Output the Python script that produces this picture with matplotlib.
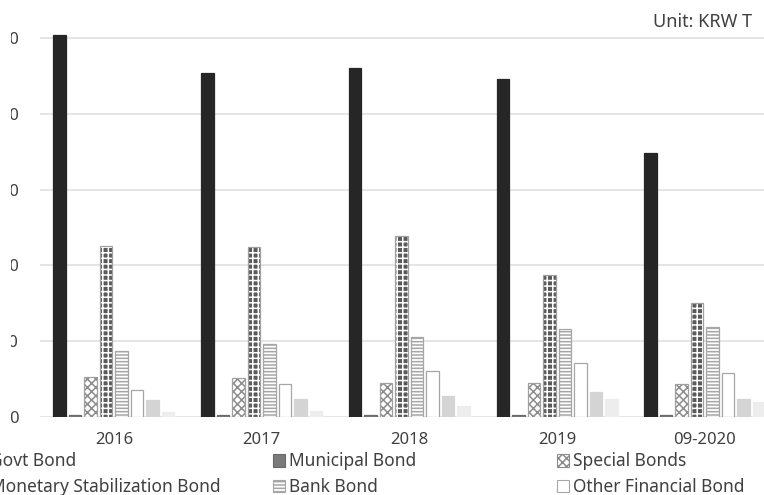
import matplotlib
matplotlib.use("Agg")
import matplotlib.pyplot as plt
from matplotlib.patches import Patch
from matplotlib.transforms import Bbox
import numpy as np

plt.rcParams['font.family'] = ['Noto Sans', 'DejaVu Sans']
plt.rcParams['hatch.linewidth'] = 1.1

# Bond trading by type, KRW trillion
years = ["2016", "2017", "2018", "2019", "09-2020"]
govt_bond = [2520, 2269, 2302, 2230, 1741]
municipal_bond = [12, 12, 12, 12, 12]
special_bonds = [264, 257, 224, 224, 218]
monetary_stab_bond = [1128, 1122, 1194, 937, 752]
bank_bond = [435, 481, 528, 580, 594]
other_fin_bond = [178, 218, 303, 356, 290]
corporate_bond = [112, 119, 138, 165, 119]
abs_bond = [33, 40, 73, 119, 99]

series = [
    ("Govt Bond", govt_bond),
    ("Municipal Bond", municipal_bond),
    ("Special Bonds", special_bonds),
    ("Monetary Stabilization Bond", monetary_stab_bond),
    ("Bank Bond", bank_bond),
    ("Other Financial Bond", other_fin_bond),
    ("Corporate Bond", corporate_bond),
    ("ABS", abs_bond),
]

# fill / hatch colour / hatch / outline for each series
styles = [
    dict(face="#262626", hatchc="#262626", hatch=None, edge="#262626"),
    dict(face="#7a7a7a", hatchc="#7a7a7a", hatch=None, edge="#6a6a6a"),
    dict(face="white", hatchc="#8c8c8c", hatch="xxxx", edge="#a0a0a0"),
    dict(face="#5a5a5a", hatchc="white", hatch="+++", edge="#a0a0a0"),
    dict(face="white", hatchc="#a6a6a6", hatch="-----", edge="#a6a6a6"),
    dict(face="white", hatchc="white", hatch=None, edge="#a6a6a6"),
    dict(face="#d4d4d4", hatchc="#d4d4d4", hatch=None, edge="#d4d4d4"),
    dict(face="#ededed", hatchc="#ededed", hatch=None, edge="#ededed"),
]

W, H = 764, 495
fig = plt.figure(figsize=(W / 100, H / 100), dpi=100)
ax_left, ax_right = 40, 40 + 5 * 147.75
ax_bottom, ax_top = 417, -38
ax = fig.add_axes([ax_left / W, (H - ax_bottom) / H,
                   (ax_right - ax_left) / W, (ax_bottom - ax_top) / H])

x = np.arange(len(years))
step = 0.105
width = 0.085
for i, ((name, vals), st) in enumerate(zip(series, styles)):
    pos = x + (i - 3.5) * step
    ax.bar(pos, vals, width=width, color=st["face"], edgecolor=st["hatchc"],
           hatch=st["hatch"], linewidth=0, zorder=3)
    ax.bar(pos, vals, width=width, facecolor="none", edgecolor=st["edge"],
           linewidth=0.9, zorder=4)

ax.set_xlim(-0.5, len(years) - 0.5)
ax.set_ylim(0, 3000)
ax.set_yticks(np.arange(0, 3001, 500))
ax.set_yticklabels(["0", "500", "1,000", "1,500", "2,000", "2,500", "3,000"])
ax.set_xticks(x)
ax.set_xticklabels(years)
ax.grid(axis="y", color="#e0e0e0", linewidth=1.2, zorder=0)
ax.set_axisbelow(True)
for s in ax.spines.values():
    s.set_visible(False)
ax.tick_params(axis="both", length=0, labelsize=12, colors="#404040")
ax.tick_params(axis="y", pad=15)
ax.tick_params(axis="x", pad=11)

# the value labels sit in a narrow gutter left of the plot
gutter = Bbox.from_extents(11, 0, W, H)
for lbl in ax.get_yticklabels():
    lbl.set_clip_box(gutter)
    lbl.set_clip_on(True)

fig.text(653 / W, 1 - 22 / H, "Unit: KRW T", fontsize=13,
         color="#404040", ha="left", va="center")

# legend, one block per column
def handle(st):
    return Patch(facecolor=st["face"], edgecolor=st["edge"] if st["hatch"] is None else st["hatchc"],
                 hatch=st["hatch"], linewidth=0.8)

cols = [(0, 3), (1, 4), (2, 5)]
col_x = [-26, 273, 557]
for (a, b), cx in zip(cols, col_x):
    fig.legend([handle(styles[a]), handle(styles[b])],
               [series[a][0], series[b][0]],
               loc="upper left", bbox_to_anchor=(cx / W, 1 - 452.5 / H),
               frameon=False, fontsize=12.5, borderpad=0, borderaxespad=0,
               handlelength=0.7, handleheight=0.7, handletextpad=0.25,
               labelspacing=0.45, labelcolor="#404040")

fig.savefig("out.png", dpi=100)
